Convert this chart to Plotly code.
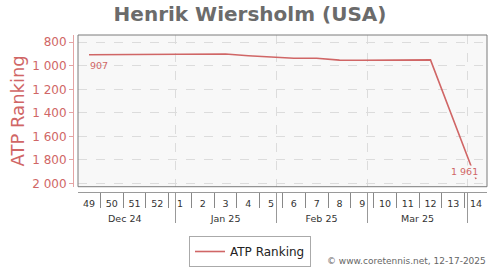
import plotly.graph_objects as go
import pandas as pd

# ---- data ----
week_starts = ["2024-12-02", "2024-12-09", "2024-12-16", "2024-12-23", "2024-12-30",
               "2025-01-06", "2025-01-13", "2025-01-20", "2025-01-27", "2025-02-03",
               "2025-02-10", "2025-02-17", "2025-02-24", "2025-03-03", "2025-03-10",
               "2025-03-17", "2025-03-24", "2025-03-31"]
week_labels = ["49", "50", "51", "52", "1", "2", "3", "4", "5", "6", "7", "8", "9",
               "10", "11", "12", "13", "14"]
ranking = [907, 906, 905, 905, 906, 905, 900, 915, 926, 937, 937, 952, 953, 952,
           951, 950, None, 1961]
y_ticks = [800, 1000, 1200, 1400, 1600, 1800, 2000]
series_name = "ATP Ranking"
title_text = "Henrik Wiersholm (USA)"
credit_text = "© www.coretennis.net, 12-17-2025"

# ---- styles ----
RED = "#d06666"
PINK_AXIS = "#e4a4a4"
GRID = "#dcdcdc"
FONT = "DejaVu Sans"
WEEK = 7 * 24 * 3600 * 1000

W, H = 500, 270
L, R, T, B = 73, 13, 35, 75
pw, ph = W - L - R, H - T - B
xdom = [5 / pw, 1]
ydom = [5 / ph, 1]
xrange_ = ["2024-12-02 03:00", "2025-04-06 21:00"]

# ISO week number as rendered by %V -> label from week_labels
week_alias = {pd.Timestamp(d).strftime("%V"): lbl for d, lbl in zip(week_starts, week_labels)}

fig = go.Figure()
fig.add_trace(go.Scatter(
    x=week_starts, y=ranking, name=series_name, mode="lines",
    xperiod=WEEK, xperiod0="2024-12-02", xperiodalignment="middle",
    connectgaps=True, line=dict(color=RED, width=1.6),
))
# carrier trace for the month axis (draws nothing)
fig.add_trace(go.Scatter(
    x=[week_starts[0]], y=[None], xaxis="x2", yaxis="y", mode="lines",
    showlegend=False, hoverinfo="skip",
))

# value labels for first and last points
valid = [(i, v) for i, v in enumerate(ranking) if v is not None]
first_i, first_v = valid[0]
last_i, last_v = valid[-1]
def center(i):
    return (pd.Timestamp(week_starts[i]) + pd.Timedelta(days=3.5)).strftime("%Y-%m-%d %H:%M")
def fmt(v):
    return f"{v:,}".replace(",", " ")

annotations = [
    dict(x=center(first_i), y=first_v, xref="x", yref="y", text=fmt(first_v),
         showarrow=False, xanchor="left", yanchor="top", yshift=-3, xshift=-1,
         font=dict(family=FONT, size=9.5, color=RED)),
    dict(x=center(last_i), y=last_v, xref="x", yref="y", text=fmt(last_v),
         showarrow=False, xanchor="right", yanchor="bottom", yshift=1, xshift=3,
         bgcolor="#f8f8f8", borderpad=0,
         font=dict(family=FONT, size=9.5, color=RED)),
    dict(x=(488 - L) / pw, y=(T + ph - 266) / ph, xref="paper", yref="paper",
         text=credit_text, showarrow=False, xanchor="right", yanchor="middle",
         font=dict(family=FONT, size=9, color="#666")),
]

shapes = [
    dict(type="rect", xref="x domain", yref="y domain", x0=0, x1=1, y0=0, y1=1,
         line=dict(color="#7a7a7a", width=1), fillcolor="rgba(0,0,0,0)", layer="above"),
]

fig.update_layout(
    width=W, height=H,
    margin=dict(l=L, r=R, t=T, b=B, pad=0),
    paper_bgcolor="white", plot_bgcolor="#f8f8f8",
    separators=". ",
    font=dict(family=FONT, color="#333"),
    title=dict(text=f"<b>{title_text}</b>", x=0.5, xref="container", xanchor="center",
               y=1 - 13.5 / H, yref="container", yanchor="middle",
               font=dict(family=FONT, size=20, color="#6b6b6b")),
    xaxis=dict(
        type="date", domain=xdom, anchor="free", position=0, range=xrange_,
        tickmode="linear", tick0="2024-12-02", dtick=WEEK, tickformat="%V",
        labelalias=week_alias,
        ticklabelmode="period", ticks="outside", ticklen=15, tickcolor="#888",
        tickwidth=1, ticklabelstandoff=-12, showgrid=False, zeroline=False,
        showline=True, linecolor="#9a9a9a", linewidth=1,
        tickfont=dict(family=FONT, size=9.5, color="#333"),
    ),
    xaxis2=dict(
        type="date", overlaying="x", domain=xdom, anchor="free", position=0,
        range=xrange_, tickmode="linear", tick0="2024-12-01", dtick="M1",
        tickformat="%b %y", ticklabelmode="period", ticks="outside", ticklen=30,
        tickcolor="#999", tickwidth=1, ticklabelstandoff=-12,
        showgrid=True, gridcolor=GRID, griddash="dash", gridwidth=1,
        showline=False, zeroline=False,
        tickfont=dict(family=FONT, size=9.5, color="#333"),
    ),
    yaxis=dict(
        domain=ydom, anchor="free", position=0, range=[2027, 739],
        tickmode="array", tickvals=y_ticks, tickformat=",d",
        ticks="outside", ticklen=4, tickcolor=PINK_AXIS, tickwidth=1,
        showline=True, linecolor=PINK_AXIS, linewidth=1,
        showgrid=True, gridcolor=GRID, griddash="dash", gridwidth=1, zeroline=False,
        tickfont=dict(family=FONT, size=12, color=RED),
        title=dict(text=series_name, standoff=1, font=dict(family=FONT, size=18, color=RED)),
    ),
    showlegend=True,
    legend=dict(x=0.5, xref="container", xanchor="center", y=1 - 236 / H, yref="container",
                yanchor="top", orientation="h", bgcolor="white", bordercolor="#aaa",
                borderwidth=1, font=dict(family=FONT, size=12, color="#222"),
                itemwidth=30),
    annotations=annotations,
    shapes=shapes,
)

fig.write_html("out.html")
